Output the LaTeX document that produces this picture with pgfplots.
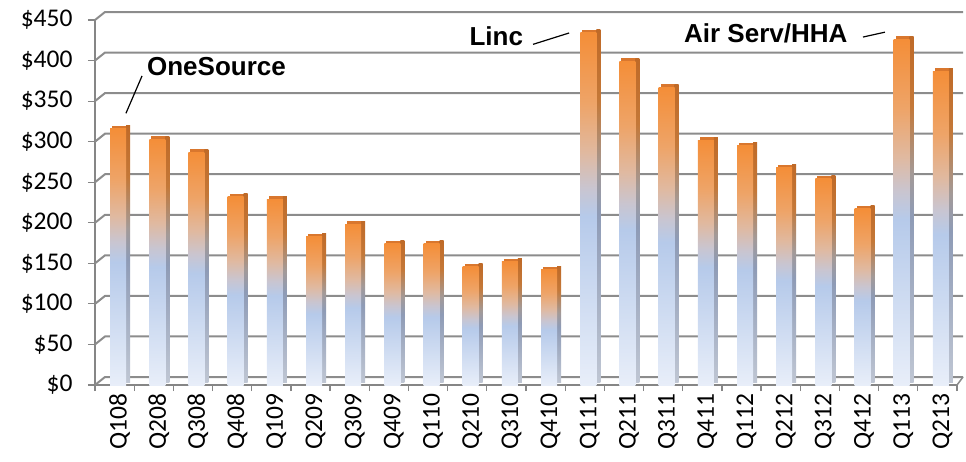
\documentclass[border=0pt]{standalone}
\usepackage{pgfplots}
\pgfplotsset{compat=1.18}
\usepackage{fontspec}
\setmainfont{Carlito}
\newfontfamily\arialf{Liberation Sans}

\definecolor{axisgray}{HTML}{868686}
\definecolor{gridgray}{HTML}{8C8C8C}
% front face colours
\definecolor{fb0}{HTML}{E8EEF9}
\definecolor{fb1}{HTML}{B6CAEA}
\definecolor{fm1}{HTML}{C9C5D0}
\definecolor{fm2}{HTML}{E0B9A0}
\definecolor{fo1}{HTML}{EEA468}
\definecolor{fo2}{HTML}{F48E38}
% side face colours
\definecolor{sb0}{HTML}{BFC6D3}
\definecolor{sb1}{HTML}{8E9BB6}
\definecolor{sm1}{HTML}{A39A98}
\definecolor{so1}{HTML}{C47838}
\definecolor{so2}{HTML}{BF6A28}
\definecolor{topface}{HTML}{D9772E}

\pgfdeclareverticalshading{frontshade}{100bp}{color(0bp)=(fb0); color(25bp)=(fb0); color(49bp)=(fb1); color(53bp)=(fm1); color(58bp)=(fm2); color(65bp)=(fo1); color(75bp)=(fo2); color(100bp)=(fo2)}
\pgfdeclareverticalshading{sideshade}{100bp}{color(0bp)=(sb0); color(25bp)=(sb0); color(49bp)=(sb1); color(55bp)=(sm1); color(65bp)=(so1); color(75bp)=(so2); color(100bp)=(so2)}

\pgfplotstableread{
idx value
0  316
1  303
2  287
3  232
4  229
5  183
6  198
7  174
8  174
9  146
10 152
11 142
12 434
13 399
14 367
15 302
16 295
17 268
18 254
19 217
20 426
21 387
}\costs

\begin{document}
\begin{tikzpicture}
\useasboundingbox (0,0) rectangle (966pt,461pt);
\begin{axis}[
    at={(95pt,76pt)}, anchor=south west,
    scale only axis, width=862pt, height=365pt,
    xmin=-0.5, xmax=21.5, ymin=0, ymax=450,
    axis x line*=bottom, axis y line*=left,
    axis line style={draw=axisgray, line width=1.5pt},
    ytick={0,50,...,450},
    yticklabels={\$0,\$50,\$100,\$150,\$200,\$250,\$300,\$350,\$400,\$450},
    xtick={0,...,21},
    xticklabels={Q108,Q208,Q308,Q408,Q109,Q209,Q309,Q409,Q110,Q210,Q310,Q410,Q111,Q211,Q311,Q411,Q112,Q212,Q312,Q412,Q113,Q213},
    major x tick style={draw=none},
    minor xtick={-0.5,0.5,...,21.5},
    tick align=outside,
    major tick length=7pt, minor tick length=6pt,
    tick style={draw=axisgray, line width=1.2pt},
    ticklabel style={font=\fontsize{25.5}{30}\selectfont, text=black},
    yticklabel style={xshift=-12pt},
    xticklabel style={rotate=90, anchor=east, yshift=-5pt, xshift=1.5pt},
    clip=false,
]
% back wall grid
\pgfplotsinvokeforeach{0,50,...,450}{
  \draw[gridgray, line width=2pt] (axis cs:-0.5,#1) -- ++(10pt,8pt) -- ([xshift=6pt,yshift=8pt]axis cs:21.5,#1);
}
\draw[gridgray, line width=1.5pt] (axis cs:21.5,0) -- ++(6pt,8pt);

% one plot per bar so that each bar gets its own gradient
\pgfplotsinvokeforeach{0,...,21}{
  \addplot[ybar, bar width=16pt, bar shift=5.5pt, yshift=3pt, draw=none, fill=topface,
    restrict expr to domain={\coordindex}{#1:#1}] table[x=idx, y=value] {\costs};
  \addplot[ybar, bar width=4pt, bar shift=13.5pt, yshift=3pt, draw=none, shading=sideshade,
    restrict expr to domain={\coordindex}{#1:#1}] table[x=idx, y=value] {\costs};
  \addplot[ybar, bar width=16pt, bar shift=3.5pt, draw=none, shading=frontshade,
    restrict expr to domain={\coordindex}{#1:#1}] table[x=idx, y=value] {\costs};
}

% annotations
\node[anchor=west, font=\arialf\bfseries\fontsize{26}{30}\selectfont] at (axis cs:0.74,392) {OneSource};
\draw[black, line width=1.2pt] (axis cs:0.29,335) -- (axis cs:0.70,381);
\node[font=\arialf\bfseries\fontsize{26}{30}\selectfont] at (axis cs:9.74,430) {Linc};
\draw[black, line width=1.2pt] (axis cs:10.68,420) -- (axis cs:11.60,434);
\node[font=\arialf\bfseries\fontsize{26}{30}\selectfont] at (axis cs:16.62,434) {Air Serv/HHA};
\draw[black, line width=1.2pt] (axis cs:19.10,429) -- (axis cs:19.66,435);
\end{axis}
\end{tikzpicture}
\end{document}
